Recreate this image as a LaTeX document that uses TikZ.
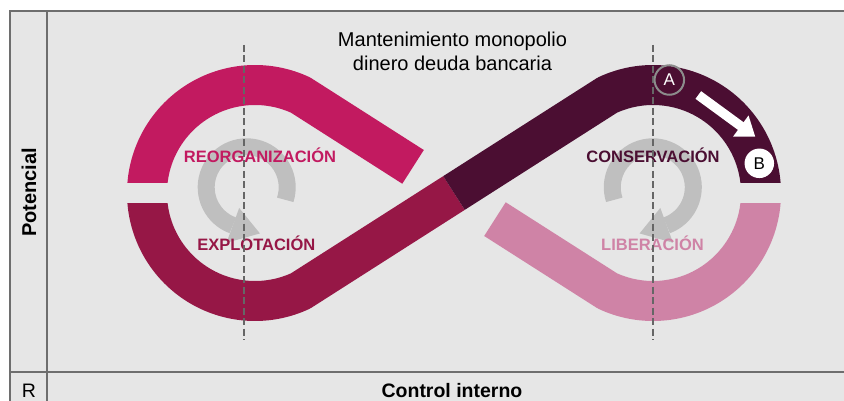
\documentclass[tikz,border=0pt]{standalone}
\usepackage{fontspec}
\setmainfont{Liberation Sans}
\usetikzlibrary{calc,arrows.meta}
\definecolor{bgc}{HTML}{E6E6E6}
\definecolor{framec}{HTML}{6E6E6E}
\definecolor{reorgc}{HTML}{C21A60}
\definecolor{explc}{HTML}{961746}
\definecolor{consc}{HTML}{4B0E32}
\definecolor{libc}{HTML}{CF83A6}
\definecolor{ringc}{HTML}{BFBFBF}
\definecolor{dashc}{HTML}{666666}
\definecolor{circc}{HTML}{8C8C8C}
\begin{document}
\begin{tikzpicture}[x=1pt,y=-1pt,
  band/.style={line width=40pt, line join=round},
  ring/.style={line width=17pt, draw=ringc},
  phase/.style={font=\fontsize{16.5}{19}\selectfont\bfseries, anchor=base},
  guide/.style={draw=dashc, line width=1.8pt, dash pattern=on 7pt off 3.5pt},
  frameline/.style={draw=framec, line width=2.2pt},
  letter/.style={circle, minimum size=29.5pt, inner sep=0pt, font=\fontsize{17}{19}\selectfont},
]
\useasboundingbox (0,0) rectangle (844,401);
\fill[white] (0,0) rectangle (844,401);
\fill[bgc] (10,11) rectangle (846,403);

% frame
\draw[frameline] (10,403) -- (10,11) -- (846,11);
\draw[frameline] (47,11) -- (47,403);
\draw[frameline] (10,371.7) -- (846,371.7);

% geometry
\coordinate (Lc) at (255,193);
\coordinate (Rc) at (653,193);
\coordinate (O) at (454,193);
\coordinate (LT) at ($(Lc)+(295:108)$);
\coordinate (LB) at ($(Lc)+(65:108)$);
\coordinate (RT) at ($(Rc)+(245:108)$);
\coordinate (RB) at ($(Rc)+(115:108)$);
\coordinate (LL) at ($(Lc)+(180:108)$);
\coordinate (RR) at ($(Rc)+(0:108)$);
\coordinate (reorgEnd) at ($(LT)!0.733!(O)$);
\coordinate (libEnd) at ($(RB)!0.733!(O)$);

% bands
\draw[band, draw=reorgc] (LL) arc[start angle=180, end angle=295, radius=108] -- (reorgEnd);
\draw[band, draw=explc] (LL) arc[start angle=180, end angle=65, radius=108] -- (O);
\draw[band, draw=consc] (O) -- (RT) arc[start angle=245, end angle=360, radius=108];
\draw[band, draw=libc] (RR) arc[start angle=0, end angle=115, radius=108] -- (libEnd);

% gaps
\fill[bgc] (120,183) rectangle (176,203);
\fill[bgc] (732,183) rectangle (790,203);

% grey cycle arrows
\coordinate (Lr) at (246.7,187.3);
\coordinate (Rr) at (652.8,187.3);
\draw[ring] ($(Lr)+(18:40.5)$) arc[start angle=18, end angle=-250, radius=40.5];
\fill[ringc] ($(Lr)+(110:22)$) -- ($(Lr)+(110:59)$) -- ($(Lr)+(74:48)$) -- cycle;
\draw[ring] ($(Rr)+(162:40.5)$) arc[start angle=162, end angle=430, radius=40.5];
\fill[ringc] ($(Rr)+(70:22)$) -- ($(Rr)+(70:59)$) -- ($(Rr)+(106:48)$) -- cycle;

% phase labels
\node[phase, text=reorgc] (reorg) at (260,162.3) {REORGANIZACIÓN};
\node[phase, text=explc] (explot) at (256.3,250.7) {EXPLOTACIÓN};
\node[phase, text=consc] (cons) at (653,162.3) {CONSERVACIÓN};
\node[phase, text=libc] (lib) at (652.5,250.7) {LIBERACIÓN};

% title
\node[font=\fontsize{20}{24}\selectfont, anchor=base] (t1) at (452.5,46.7) {Mantenimiento monopolio};
\node[font=\fontsize{20}{24}\selectfont, anchor=base] (t2) at (452.5,70.7) {dinero deuda bancaria};

% axes
\node[font=\fontsize{20}{24}\selectfont\bfseries, rotate=90, anchor=base] (pot) at (36,192.5) {Potencial};
\node[font=\fontsize{19.5}{23}\selectfont\bfseries, anchor=base] (ctrl) at (452,397) {Control interno};
\node[font=\fontsize{19.5}{23}\selectfont, anchor=base] (r) at (28.8,397.5) {R};

% dashed guides
\coordinate (g1a) at (244,45); \coordinate (g1b) at (244,340);
\coordinate (g2a) at (653,45); \coordinate (g2b) at (653,340);
\draw[guide] (g1a) -- (g1b);
\draw[guide] (g2a) -- (g2b);

% A, B markers
\node[letter, draw=circc, line width=2pt, text=white] (A) at (669.3,80) {A};
\node[letter, fill=white, text=black] (B) at (759.3,163.3) {B};
\coordinate (arS) at (698.3,95);
\coordinate (arE) at (755.3,136.7);
\draw[white, line width=9.5pt, -{Triangle[width=25pt,length=18pt]}] (arS) -- (arE);
\end{tikzpicture}
\end{document}
